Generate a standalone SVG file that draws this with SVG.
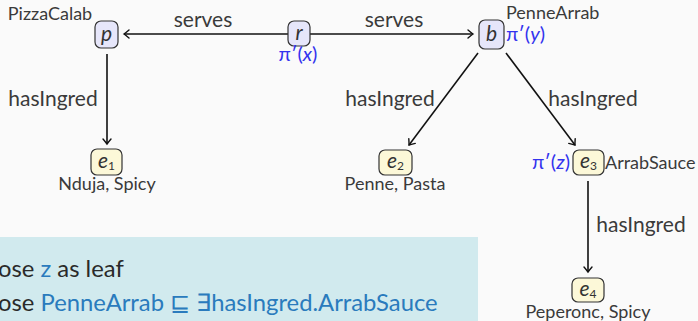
<svg xmlns="http://www.w3.org/2000/svg" width="698" height="321" viewBox="0 0 698 321">
  <defs>
    <marker id="arrow" viewBox="-6 -5 8 10" markerWidth="8" markerHeight="10" refX="0" refY="0" orient="auto" markerUnits="userSpaceOnUse">
      <path d="M -5 -4 Q -1.5 -1 0 0 Q -1.5 1 -5 4" fill="none" stroke="#111" stroke-width="1.4" stroke-linecap="round"/>
    </marker>
    <style>
      .bg { fill: #fafafa; }
      .edge { fill: none; stroke: #111; stroke-width: 1.6; marker-end: url(#arrow); }
      .var { fill: #e6e6fa; stroke: #333; stroke-width: 1.2; }
      .elt { fill: #fcf8d8; stroke: #333; stroke-width: 1.2; }
      .math { font-family: Lato, "DejaVu Sans", sans-serif; font-style: italic; font-size: 21px; fill: #333; text-anchor: middle; }
      .sub { font-style: normal; font-size: 12px; }
      .lbl { font-family: Lato, "Open Sans", sans-serif; font-size: 21px; fill: #3a3a3a; }
      .name { font-family: Lato, "Open Sans", sans-serif; font-size: 18px; fill: #3a3a3a; }
      .pi { font-family: Lato, "DejaVu Sans", sans-serif; font-size: 20px; fill: #3333ee; }
      .note { font-family: Lato, "Open Sans", sans-serif; font-size: 23.8px; fill: #2a2a2a; }
      .hl { fill: #2a7bbd; }
      .mid { text-anchor: middle; }
    </style>
  </defs>

  <rect class="bg" x="0" y="0" width="698" height="321"/>

  <!-- info panel -->
  <g id="panel">
    <rect x="0" y="237" width="478" height="84" fill="#d1eaee"/>
    <text class="note" x="-2" y="277">ose <tspan class="hl">z</tspan> as leaf</text>
    <text class="note" x="-2" y="311">ose <tspan class="hl">PenneArrab ⊑ ∃hasIngred.ArrabSauce</tspan></text>
  </g>

  <!-- connectors -->
  <g id="edges">
    <line class="edge" x1="288" y1="34" x2="124" y2="34"/>
    <line class="edge" x1="310" y1="34" x2="473" y2="34"/>
    <line class="edge" x1="107" y1="54" x2="107" y2="144"/>
    <line class="edge" x1="478" y1="53" x2="409" y2="145"/>
    <line class="edge" x1="506" y1="53" x2="575" y2="145"/>
    <line class="edge" x1="588" y1="181" x2="588" y2="272"/>
    <text class="lbl mid" x="203" y="27">serves</text>
    <text class="lbl mid" x="394" y="27">serves</text>
    <text class="lbl mid" x="53" y="106">hasIngred</text>
    <text class="lbl mid" x="390" y="106">hasIngred</text>
    <text class="lbl mid" x="593" y="106">hasIngred</text>
    <text class="lbl mid" x="641" y="232">hasIngred</text>
  </g>

  <!-- variable nodes -->
  <g id="node-p">
    <rect class="var" x="95" y="21" width="23" height="27" rx="6"/>
    <text class="math" x="106.5" y="41">p</text>
    <text class="name mid" x="50" y="20">PizzaCalab</text>
  </g>
  <g id="node-r">
    <rect class="var" x="288" y="21" width="22" height="25" rx="6"/>
    <text class="math" x="299" y="40">r</text>
    <text class="pi mid" x="298" y="61">π′(<tspan font-style="italic">x</tspan>)</text>
  </g>
  <g id="node-b">
    <rect class="var" x="479" y="20" width="25" height="29" rx="6"/>
    <text class="math" x="491.5" y="41">b</text>
    <text class="name" x="506" y="19">PenneArrab</text>
    <text class="pi" x="506" y="41">π′(<tspan font-style="italic">y</tspan>)</text>
  </g>

  <!-- element nodes -->
  <g id="node-e1">
    <rect class="elt" x="91" y="149" width="31" height="26" rx="6"/>
    <text class="math" x="106.5" y="168">e<tspan class="sub" dy="2">1</tspan></text>
    <text class="name mid" x="107" y="190">Nduja, Spicy</text>
  </g>
  <g id="node-e2">
    <rect class="elt" x="379" y="150" width="33" height="25" rx="6"/>
    <text class="math" x="395.5" y="168">e<tspan class="sub" dy="2">2</tspan></text>
    <text class="name mid" x="395" y="190">Penne, Pasta</text>
  </g>
  <g id="node-e3">
    <rect class="elt" x="573" y="150" width="31" height="25" rx="6"/>
    <text class="math" x="588.5" y="168">e<tspan class="sub" dy="2">3</tspan></text>
    <text class="pi" x="532" y="169">π′(<tspan font-style="italic">z</tspan>)</text>
    <text class="name" x="605" y="169">ArrabSauce</text>
  </g>
  <g id="node-e4">
    <rect class="elt" x="572" y="278" width="32" height="24" rx="6"/>
    <text class="math" x="588" y="296">e<tspan class="sub" dy="2">4</tspan></text>
    <text class="name mid" x="588" y="318">Peperonc, Spicy</text>
  </g>
</svg>
